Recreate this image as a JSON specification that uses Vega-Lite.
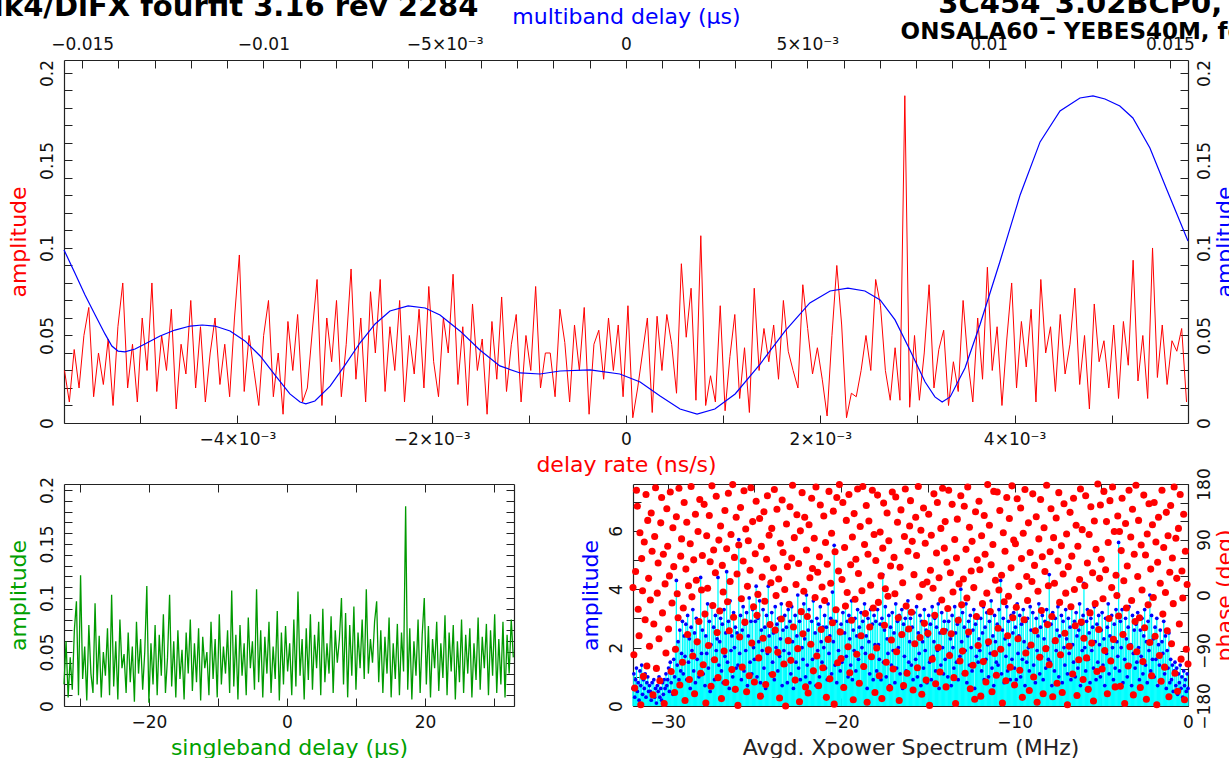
{
"$schema": "https://vega.github.io/schema/vega-lite/v6.json",
"background": "white",
"padding": {"left": -25, "top": -10, "right": 0, "bottom": 0},
"title": {"text": "Mk4/DiFX fourfit 3.16 rev 2284", "anchor": "start", "frame": "bounds", "font": "DejaVu Sans", "fontSize": 29, "fontWeight": "bold", "color": "#000000", "offset": 0, "dx": -32, "dy": 32},
"config": {
  "view": {"stroke": null},
  "axis": {"domainColor": "#222222", "domainWidth": 1.2, "tickColor": "#222222", "tickSize": -8, "tickWidth": 1, "labelPadding": 16, "labelFont": "DejaVu Sans", "labelFontSize": 17, "labelColor": "#111111", "titleFont": "DejaVu Sans", "titleFontSize": 22, "titleFontWeight": "normal", "grid": false, "labelOverlap": false, "labelFlush": false, "labelBound": false},
  "axisY": {"labelAngle": -90, "titleAngle": -90}
},
"spacing": 61,
"bounds": "flush",
"vconcat": [
{
  "width": 1124, "height": 363,
  "title": {"text": "3C454_3.02BCP0, 2ADFKQ, LL", "subtitle": "ONSALA60 - YEBES40M, fgroup X, pol LL", "anchor": "end", "align": "right", "frame": "group", "font": "DejaVu Sans", "fontSize": 29, "fontWeight": "bold", "color": "#000000", "subtitleFont": "DejaVu Sans", "subtitleFontSize": 23, "subtitleFontWeight": "bold", "subtitleColor": "#000000", "subtitlePadding": 2, "offset": 0, "dx": 236, "dy": 39},
  "resolve": {"scale": {"x": "independent", "y": "independent"}, "axis": {"x": "independent", "y": "independent"}},
  "layer": [
    {
      "data": {"values": [
{"r":-5.78e-3,"a":0.030},{"r":-5.73e-3,"a":0.012},{"r":-5.68e-3,"a":0.042},{"r":-5.63e-3,"a":0.020},{"r":-5.58e-3,"a":0.050},{"r":-5.53e-3,"a":0.066},{"r":-5.48e-3,"a":0.015},{"r":-5.43e-3,"a":0.040},{"r":-5.38e-3,"a":0.022},{"r":-5.33e-3,"a":0.048},
{"r":-5.28e-3,"a":0.010},{"r":-5.23e-3,"a":0.055},{"r":-5.18e-3,"a":0.080},{"r":-5.13e-3,"a":0.020},{"r":-5.08e-3,"a":0.045},{"r":-5.03e-3,"a":0.012},{"r":-4.98e-3,"a":0.060},{"r":-4.93e-3,"a":0.030},{"r":-4.88e-3,"a":0.080},{"r":-4.83e-3,"a":0.018},
{"r":-4.78e-3,"a":0.050},{"r":-4.73e-3,"a":0.030},{"r":-4.68e-3,"a":0.065},{"r":-4.63e-3,"a":0.008},{"r":-4.58e-3,"a":0.045},{"r":-4.53e-3,"a":0.028},{"r":-4.48e-3,"a":0.070},{"r":-4.43e-3,"a":0.020},{"r":-4.38e-3,"a":0.055},{"r":-4.33e-3,"a":0.012},
{"r":-4.28e-3,"a":0.040},{"r":-4.23e-3,"a":0.060},{"r":-4.18e-3,"a":0.022},{"r":-4.13e-3,"a":0.045},{"r":-4.08e-3,"a":0.015},{"r":-4.03e-3,"a":0.060},{"r":-3.98e-3,"a":0.096},{"r":-3.93e-3,"a":0.018},{"r":-3.88e-3,"a":0.050},{"r":-3.83e-3,"a":0.030},
{"r":-3.78e-3,"a":0.010},{"r":-3.73e-3,"a":0.050},{"r":-3.68e-3,"a":0.070},{"r":-3.63e-3,"a":0.015},{"r":-3.58e-3,"a":0.040},{"r":-3.53e-3,"a":0.005},{"r":-3.48e-3,"a":0.058},{"r":-3.43e-3,"a":0.030},{"r":-3.38e-3,"a":0.062},{"r":-3.33e-3,"a":0.012},
{"r":-3.28e-3,"a":0.020},{"r":-3.23e-3,"a":0.052},{"r":-3.18e-3,"a":0.082},{"r":-3.13e-3,"a":0.010},{"r":-3.08e-3,"a":0.060},{"r":-3.03e-3,"a":0.035},{"r":-2.98e-3,"a":0.070},{"r":-2.93e-3,"a":0.015},{"r":-2.88e-3,"a":0.045},{"r":-2.83e-3,"a":0.088},
{"r":-2.78e-3,"a":0.025},{"r":-2.73e-3,"a":0.060},{"r":-2.68e-3,"a":0.012},{"r":-2.63e-3,"a":0.075},{"r":-2.58e-3,"a":0.040},{"r":-2.53e-3,"a":0.082},{"r":-2.48e-3,"a":0.018},{"r":-2.43e-3,"a":0.055},{"r":-2.38e-3,"a":0.030},{"r":-2.33e-3,"a":0.070},
{"r":-2.28e-3,"a":0.012},{"r":-2.23e-3,"a":0.050},{"r":-2.18e-3,"a":0.028},{"r":-2.13e-3,"a":0.065},{"r":-2.08e-3,"a":0.020},{"r":-2.03e-3,"a":0.078},{"r":-1.98e-3,"a":0.035},{"r":-1.93e-3,"a":0.015},{"r":-1.88e-3,"a":0.060},{"r":-1.83e-3,"a":0.040},
{"r":-1.78e-3,"a":0.085},{"r":-1.73e-3,"a":0.022},{"r":-1.68e-3,"a":0.055},{"r":-1.63e-3,"a":0.010},{"r":-1.58e-3,"a":0.068},{"r":-1.53e-3,"a":0.030},{"r":-1.48e-3,"a":0.048},{"r":-1.43e-3,"a":0.005},{"r":-1.38e-3,"a":0.058},{"r":-1.33e-3,"a":0.025},
{"r":-1.28e-3,"a":0.072},{"r":-1.23e-3,"a":0.018},{"r":-1.18e-3,"a":0.045},{"r":-1.13e-3,"a":0.062},{"r":-1.08e-3,"a":0.012},{"r":-1.03e-3,"a":0.050},{"r":-0.98e-3,"a":0.030},{"r":-0.93e-3,"a":0.078},{"r":-0.88e-3,"a":0.020},{"r":-0.83e-3,"a":0.040},
{"r":-0.78e-3,"a":0.040},{"r":-0.73e-3,"a":0.015},{"r":-0.68e-3,"a":0.065},{"r":-0.63e-3,"a":0.046},{"r":-0.58e-3,"a":0.012},{"r":-0.53e-3,"a":0.056},{"r":-0.48e-3,"a":0.030},{"r":-0.43e-3,"a":0.066},{"r":-0.38e-3,"a":0.005},{"r":-0.33e-3,"a":0.045},
{"r":-0.28e-3,"a":0.053},{"r":-0.23e-3,"a":0.025},{"r":-0.18e-3,"a":0.060},{"r":-0.13e-3,"a":0.030},{"r":-0.08e-3,"a":0.056},{"r":-0.03e-3,"a":0.015},{"r":0.02e-3,"a":0.067},{"r":0.07e-3,"a":0.003},{"r":0.12e-3,"a":0.020},{"r":0.17e-3,"a":0.040},
{"r":0.22e-3,"a":0.060},{"r":0.27e-3,"a":0.006},{"r":0.32e-3,"a":0.061},{"r":0.37e-3,"a":0.030},{"r":0.42e-3,"a":0.062},{"r":0.47e-3,"a":0.045},{"r":0.52e-3,"a":0.017},{"r":0.57e-3,"a":0.091},{"r":0.62e-3,"a":0.049},{"r":0.67e-3,"a":0.077},
{"r":0.72e-3,"a":0.013},{"r":0.77e-3,"a":0.107},{"r":0.82e-3,"a":0.010},{"r":0.87e-3,"a":0.027},{"r":0.92e-3,"a":0.012},{"r":0.97e-3,"a":0.067},{"r":1.02e-3,"a":0.007},{"r":1.07e-3,"a":0.038},{"r":1.12e-3,"a":0.062},{"r":1.17e-3,"a":0.014},
{"r":1.22e-3,"a":0.043},{"r":1.27e-3,"a":0.006},{"r":1.32e-3,"a":0.077},{"r":1.37e-3,"a":0.030},{"r":1.42e-3,"a":0.054},{"r":1.47e-3,"a":0.035},{"r":1.52e-3,"a":0.056},{"r":1.57e-3,"a":0.025},{"r":1.62e-3,"a":0.070},{"r":1.67e-3,"a":0.041},
{"r":1.72e-3,"a":0.030},{"r":1.77e-3,"a":0.020},{"r":1.82e-3,"a":0.079},{"r":1.87e-3,"a":0.054},{"r":1.92e-3,"a":0.028},{"r":1.97e-3,"a":0.043},{"r":2.02e-3,"a":0.025},{"r":2.07e-3,"a":0.004},{"r":2.12e-3,"a":0.050},{"r":2.17e-3,"a":0.090},
{"r":2.22e-3,"a":0.056},{"r":2.27e-3,"a":0.003},{"r":2.32e-3,"a":0.017},{"r":2.37e-3,"a":0.015},{"r":2.42e-3,"a":0.030},{"r":2.47e-3,"a":0.050},{"r":2.52e-3,"a":0.030},{"r":2.57e-3,"a":0.082},{"r":2.62e-3,"a":0.067},{"r":2.67e-3,"a":0.030},
{"r":2.72e-3,"a":0.013},{"r":2.77e-3,"a":0.043},{"r":2.82e-3,"a":0.013},{"r":2.87e-3,"a":0.187},{"r":2.92e-3,"a":0.009},{"r":2.97e-3,"a":0.050},{"r":3.02e-3,"a":0.013},{"r":3.07e-3,"a":0.040},{"r":3.12e-3,"a":0.079},{"r":3.17e-3,"a":0.020},
{"r":3.22e-3,"a":0.042},{"r":3.27e-3,"a":0.053},{"r":3.32e-3,"a":0.010},{"r":3.37e-3,"a":0.035},{"r":3.42e-3,"a":0.018},{"r":3.47e-3,"a":0.070},{"r":3.52e-3,"a":0.035},{"r":3.57e-3,"a":0.012},{"r":3.62e-3,"a":0.060},{"r":3.67e-3,"a":0.025},
{"r":3.72e-3,"a":0.089},{"r":3.77e-3,"a":0.030},{"r":3.82e-3,"a":0.055},{"r":3.87e-3,"a":0.010},{"r":3.92e-3,"a":0.048},{"r":3.97e-3,"a":0.080},{"r":4.02e-3,"a":0.020},{"r":4.07e-3,"a":0.058},{"r":4.12e-3,"a":0.032},{"r":4.17e-3,"a":0.065},
{"r":4.22e-3,"a":0.012},{"r":4.27e-3,"a":0.082},{"r":4.32e-3,"a":0.040},{"r":4.37e-3,"a":0.055},{"r":4.42e-3,"a":0.018},{"r":4.47e-3,"a":0.062},{"r":4.52e-3,"a":0.028},{"r":4.57e-3,"a":0.045},{"r":4.62e-3,"a":0.077},{"r":4.67e-3,"a":0.022},
{"r":4.72e-3,"a":0.050},{"r":4.77e-3,"a":0.008},{"r":4.82e-3,"a":0.068},{"r":4.87e-3,"a":0.035},{"r":4.92e-3,"a":0.047},{"r":4.97e-3,"a":0.020},{"r":5.02e-3,"a":0.056},{"r":5.07e-3,"a":0.014},{"r":5.12e-3,"a":0.058},{"r":5.17e-3,"a":0.033},
{"r":5.22e-3,"a":0.093},{"r":5.27e-3,"a":0.024},{"r":5.32e-3,"a":0.050},{"r":5.37e-3,"a":0.014},{"r":5.42e-3,"a":0.100},{"r":5.47e-3,"a":0.026},{"r":5.52e-3,"a":0.056},{"r":5.57e-3,"a":0.022},{"r":5.62e-3,"a":0.047},{"r":5.67e-3,"a":0.041},
{"r":5.72e-3,"a":0.054},{"r":5.77e-3,"a":0.012}
      ]},
      "mark": {"type": "line", "color": "#ff0000", "strokeWidth": 1},
      "encoding": {
        "x": {"field": "r", "type": "quantitative", "scale": {"domain": [-0.005785, 0.005785], "nice": false, "zero": false},
              "axis": {"orient": "bottom", "title": "delay rate (ns/s)", "titleColor": "#ff0000", "titlePadding": 7,
                       "values": [-0.005,-0.004,-0.003,-0.002,-0.001,0,0.001,0.002,0.003,0.004,0.005],
                       "labelExpr": "abs(datum.value) < 1e-9 ? '0' : (abs(round(datum.value*1000)) % 2 == 0 ? (datum.value < 0 ? '\u2212' : '') + abs(round(datum.value*1000)) + '\u00d710\u207b\u00b3' : '')"}},
        "y": {"field": "a", "type": "quantitative", "scale": {"domain": [0, 0.2074], "nice": false, "zero": false},
              "axis": {"orient": "left", "title": "amplitude", "titleColor": "#ff0000", "titlePadding": 8,
                       "values": [0,0.01,0.02,0.03,0.04,0.05,0.06,0.07,0.08,0.09,0.1,0.11,0.12,0.13,0.14,0.15,0.16,0.17,0.18,0.19,0.2],
                       "labelExpr": "abs(round(datum.value*100)) % 5 == 0 ? '' + datum.value : ''"}}
      }
    },
    {
      "data": {"values": [
{"m":-0.01550,"a":0.0989},{"m":-0.01520,"a":0.0857},{"m":-0.01492,"a":0.0731},{"m":-0.01464,"a":0.0617},{"m":-0.01437,"a":0.0509},{"m":-0.01418,"a":0.0440},{"m":-0.01401,"a":0.0411},{"m":-0.01382,"a":0.0406},{"m":-0.01354,"a":0.0423},{"m":-0.01327,"a":0.0451},
{"m":-0.01285,"a":0.0497},{"m":-0.01244,"a":0.0531},{"m":-0.01202,"a":0.0554},{"m":-0.01169,"a":0.0560},{"m":-0.01134,"a":0.0554},{"m":-0.01092,"a":0.0526},{"m":-0.01051,"a":0.0469},{"m":-0.01009,"a":0.0383},{"m":-0.00968,"a":0.0274},{"m":-0.00927,"a":0.0166},
{"m":-0.00899,"a":0.0120},{"m":-0.00883,"a":0.0109},{"m":-0.00858,"a":0.0126},{"m":-0.00816,"a":0.0211},{"m":-0.00775,"a":0.0331},{"m":-0.00734,"a":0.0457},{"m":-0.00692,"a":0.0566},{"m":-0.00651,"a":0.0640},{"m":-0.00601,"a":0.0669},{"m":-0.00554,"a":0.0657},
{"m":-0.00513,"a":0.0617},{"m":-0.00458,"a":0.0526},{"m":-0.00403,"a":0.0417},{"m":-0.00348,"a":0.0326},{"m":-0.00292,"a":0.0286},{"m":-0.00237,"a":0.0280},{"m":-0.00182,"a":0.0297},{"m":-0.00099,"a":0.0303},{"m":-0.00017,"a":0.0280},{"m":0.00039,"a":0.0234},
{"m":0.00094,"a":0.0154},{"m":0.00149,"a":0.0080},{"m":0.00196,"a":0.0051},{"m":0.00245,"a":0.0080},{"m":0.00301,"a":0.0166},{"m":0.00370,"a":0.0337},{"m":0.00439,"a":0.0526},{"m":0.00507,"a":0.0686},{"m":0.00563,"a":0.0754},{"m":0.00612,"a":0.0771},
{"m":0.00659,"a":0.0754},{"m":0.00701,"a":0.0703},{"m":0.00742,"a":0.0589},{"m":0.00783,"a":0.0417},{"m":0.00825,"a":0.0234},{"m":0.00852,"a":0.0149},{"m":0.00872,"a":0.0120},{"m":0.00894,"a":0.0149},{"m":0.00935,"a":0.0314},{"m":0.00976,"a":0.0560},
{"m":0.01031,"a":0.0920},{"m":0.01087,"a":0.1303},{"m":0.01142,"a":0.1606},{"m":0.01197,"a":0.1783},{"m":0.01252,"a":0.1857},{"m":0.01288,"a":0.1869},{"m":0.01321,"a":0.1851},{"m":0.01362,"a":0.1811},{"m":0.01398,"a":0.1743},{"m":0.01445,"a":0.1571},
{"m":0.01492,"a":0.1331},{"m":0.01550,"a":0.1040}
      ]},
      "mark": {"type": "line", "color": "#0000ff", "strokeWidth": 1.2},
      "encoding": {
        "x": {"field": "m", "type": "quantitative", "scale": {"domain": [-0.0155, 0.0155], "nice": false, "zero": false},
              "axis": {"orient": "top", "title": "multiband delay (\u00b5s)", "titleColor": "#0000ff", "titlePadding": 7, "labelPadding": 15,
                       "values": [-0.015,-0.014,-0.013,-0.012,-0.011,-0.01,-0.009,-0.008,-0.007,-0.006,-0.005,-0.004,-0.003,-0.002,-0.001,0,0.001,0.002,0.003,0.004,0.005,0.006,0.007,0.008,0.009,0.01,0.011,0.012,0.013,0.014,0.015],
                       "labelExpr": "abs(round(datum.value*1000)) % 5 != 0 ? '' : (abs(datum.value) < 1e-9 ? '0' : (datum.value < 0 ? '\u2212' : '') + (abs(round(datum.value*1000)) == 5 ? '5\u00d710\u207b\u00b3' : (abs(round(datum.value*1000)) == 10 ? '0.01' : '0.015')))"}},
        "y": {"field": "a", "type": "quantitative", "scale": {"domain": [0, 0.2074], "nice": false, "zero": false},
              "axis": {"orient": "right", "title": "amplitude", "titleColor": "#0000ff", "titlePadding": 24,
                       "values": [0,0.01,0.02,0.03,0.04,0.05,0.06,0.07,0.08,0.09,0.1,0.11,0.12,0.13,0.14,0.15,0.16,0.17,0.18,0.19,0.2],
                       "labelExpr": "abs(round(datum.value*100)) % 5 == 0 ? '' + datum.value : ''"}}
      }
    }
  ]
},
{
  "hconcat": [
  {
    "width": 450, "height": 222,
    "data": {"values": [
{"d":-32.3,"a":0.020},{"d":-32.0,"a":0.060},{"d":-31.7,"a":0.008},{"d":-31.4,"a":0.045},{"d":-31.1,"a":0.015},{"d":-30.8,"a":0.070},{"d":-30.5,"a":0.097},{"d":-30.2,"a":0.010},{"d":-29.9,"a":0.121},{"d":-29.6,"a":0.025},
{"d":-29.3,"a":0.055},{"d":-29.0,"a":0.005},{"d":-28.7,"a":0.075},{"d":-28.4,"a":0.030},{"d":-28.1,"a":0.012},{"d":-27.8,"a":0.095},{"d":-27.5,"a":0.020},{"d":-27.2,"a":0.065},{"d":-26.9,"a":0.008},{"d":-26.6,"a":0.050},
{"d":-26.3,"a":0.028},{"d":-26.0,"a":0.072},{"d":-25.7,"a":0.010},{"d":-25.4,"a":0.103},{"d":-25.1,"a":0.018},{"d":-24.8,"a":0.060},{"d":-24.5,"a":0.006},{"d":-24.2,"a":0.080},{"d":-23.9,"a":0.035},{"d":-23.6,"a":0.048},
{"d":-23.3,"a":0.012},{"d":-23.0,"a":0.068},{"d":-22.7,"a":0.022},{"d":-22.4,"a":0.055},{"d":-22.1,"a":0.004},{"d":-21.8,"a":0.078},{"d":-21.5,"a":0.030},{"d":-21.2,"a":0.062},{"d":-20.9,"a":0.015},{"d":-20.6,"a":0.050},
{"d":-20.3,"a":0.111},{"d":-20.0,"a":0.003},{"d":-19.7,"a":0.058},{"d":-19.4,"a":0.020},{"d":-19.1,"a":0.075},{"d":-18.8,"a":0.010},{"d":-18.5,"a":0.066},{"d":-18.2,"a":0.028},{"d":-17.9,"a":0.085},{"d":-17.6,"a":0.012},
{"d":-17.3,"a":0.045},{"d":-17.0,"a":0.103},{"d":-16.7,"a":0.018},{"d":-16.4,"a":0.060},{"d":-16.1,"a":0.008},{"d":-15.8,"a":0.070},{"d":-15.5,"a":0.025},{"d":-15.2,"a":0.052},{"d":-14.9,"a":0.006},{"d":-14.6,"a":0.068},
{"d":-14.3,"a":0.030},{"d":-14.0,"a":0.080},{"d":-13.7,"a":0.014},{"d":-13.4,"a":0.058},{"d":-13.1,"a":0.022},{"d":-12.8,"a":0.072},{"d":-12.5,"a":0.005},{"d":-12.2,"a":0.064},{"d":-11.9,"a":0.035},{"d":-11.6,"a":0.050},
{"d":-11.3,"a":0.010},{"d":-11.0,"a":0.078},{"d":-10.7,"a":0.025},{"d":-10.4,"a":0.062},{"d":-10.1,"a":0.008},{"d":-9.8,"a":0.085},{"d":-9.5,"a":0.020},{"d":-9.2,"a":0.055},{"d":-8.9,"a":0.030},{"d":-8.6,"a":0.070},
{"d":-8.3,"a":0.012},{"d":-8.0,"a":0.107},{"d":-7.7,"a":0.018},{"d":-7.4,"a":0.066},{"d":-7.1,"a":0.006},{"d":-6.8,"a":0.075},{"d":-6.5,"a":0.028},{"d":-6.2,"a":0.058},{"d":-5.9,"a":0.010},{"d":-5.6,"a":0.082},
{"d":-5.3,"a":0.035},{"d":-5.0,"a":0.060},{"d":-4.7,"a":0.015},{"d":-4.4,"a":0.108},{"d":-4.1,"a":0.022},{"d":-3.8,"a":0.070},{"d":-3.5,"a":0.008},{"d":-3.2,"a":0.064},{"d":-2.9,"a":0.030},{"d":-2.6,"a":0.078},
{"d":-2.3,"a":0.012},{"d":-2.0,"a":0.055},{"d":-1.7,"a":0.025},{"d":-1.4,"a":0.088},{"d":-1.1,"a":0.005},{"d":-0.8,"a":0.068},{"d":-0.5,"a":0.020},{"d":-0.2,"a":0.074},{"d":0.1,"a":0.032},{"d":0.4,"a":0.058},
{"d":0.7,"a":0.010},{"d":1.0,"a":0.080},{"d":1.3,"a":0.018},{"d":1.6,"a":0.106},{"d":1.9,"a":0.028},{"d":2.2,"a":0.062},{"d":2.5,"a":0.006},{"d":2.8,"a":0.072},{"d":3.1,"a":0.024},{"d":3.4,"a":0.085},
{"d":3.7,"a":0.015},{"d":4.0,"a":0.066},{"d":4.3,"a":0.035},{"d":4.6,"a":0.078},{"d":4.9,"a":0.010},{"d":5.2,"a":0.090},{"d":5.5,"a":0.022},{"d":5.8,"a":0.058},{"d":6.1,"a":0.030},{"d":6.4,"a":0.083},
{"d":6.7,"a":0.012},{"d":7.0,"a":0.070},{"d":7.3,"a":0.040},{"d":7.6,"a":0.062},{"d":7.9,"a":0.100},{"d":8.2,"a":0.020},{"d":8.5,"a":0.086},{"d":8.8,"a":0.008},{"d":9.1,"a":0.075},{"d":9.4,"a":0.028},
{"d":9.7,"a":0.092},{"d":10.0,"a":0.015},{"d":10.3,"a":0.068},{"d":10.6,"a":0.035},{"d":10.9,"a":0.080},{"d":11.2,"a":0.025},{"d":11.5,"a":0.108},{"d":11.8,"a":0.030},{"d":12.1,"a":0.062},{"d":12.4,"a":0.040},
{"d":12.7,"a":0.078},{"d":13.0,"a":0.097},{"d":13.3,"a":0.022},{"d":13.6,"a":0.070},{"d":13.9,"a":0.012},{"d":14.2,"a":0.064},{"d":14.5,"a":0.030},{"d":14.8,"a":0.082},{"d":15.1,"a":0.008},{"d":15.4,"a":0.058},
{"d":15.7,"a":0.025},{"d":16.0,"a":0.076},{"d":16.3,"a":0.010},{"d":16.6,"a":0.068},{"d":16.9,"a":0.032},{"d":17.2,"a":0.185},{"d":17.5,"a":0.015},{"d":17.8,"a":0.072},{"d":18.1,"a":0.006},{"d":18.4,"a":0.060},
{"d":18.7,"a":0.028},{"d":19.0,"a":0.080},{"d":19.3,"a":0.012},{"d":19.6,"a":0.066},{"d":19.9,"a":0.100},{"d":20.2,"a":0.020},{"d":20.5,"a":0.074},{"d":20.8,"a":0.008},{"d":21.1,"a":0.062},{"d":21.4,"a":0.035},
{"d":21.7,"a":0.078},{"d":22.0,"a":0.014},{"d":22.3,"a":0.058},{"d":22.6,"a":0.026},{"d":22.9,"a":0.084},{"d":23.2,"a":0.010},{"d":23.5,"a":0.068},{"d":23.8,"a":0.032},{"d":24.1,"a":0.075},{"d":24.4,"a":0.006},
{"d":24.7,"a":0.060},{"d":25.0,"a":0.022},{"d":25.3,"a":0.080},{"d":25.6,"a":0.012},{"d":25.9,"a":0.066},{"d":26.2,"a":0.030},{"d":26.5,"a":0.072},{"d":26.8,"a":0.008},{"d":27.1,"a":0.058},{"d":27.4,"a":0.024},
{"d":27.7,"a":0.082},{"d":28.0,"a":0.015},{"d":28.3,"a":0.064},{"d":28.6,"a":0.035},{"d":28.9,"a":0.076},{"d":29.2,"a":0.010},{"d":29.5,"a":0.070},{"d":29.8,"a":0.028},{"d":30.1,"a":0.085},{"d":30.4,"a":0.012},
{"d":30.7,"a":0.062},{"d":31.0,"a":0.020},{"d":31.3,"a":0.078},{"d":31.6,"a":0.008},{"d":31.9,"a":0.066},{"d":32.2,"a":0.030},{"d":32.5,"a":0.080},{"d":32.8,"a":0.045}
    ]},
    "resolve": {"axis": {"x": "independent", "y": "independent"}},
    "layer": [
      {
        "mark": {"type": "line", "color": "#009a00", "strokeWidth": 1.3},
        "encoding": {
          "x": {"field": "d", "type": "quantitative", "scale": {"domain": [-32.3, 32.9], "nice": false, "zero": false},
                "axis": {"orient": "bottom", "title": "singleband delay (\u00b5s)", "titleColor": "#00a000", "titlePadding": 7,
                         "values": [-30,-20,-10,0,10,20,30], "labelExpr": "datum.value % 20 == 0 ? format(datum.value, 'd') : ''"}},
          "y": {"field": "a", "type": "quantitative", "scale": {"domain": [0, 0.2055], "nice": false, "zero": false},
                "axis": {"orient": "left", "title": "amplitude", "titleColor": "#00a000", "titlePadding": 8,
                         "values": [0,0.01,0.02,0.03,0.04,0.05,0.06,0.07,0.08,0.09,0.1,0.11,0.12,0.13,0.14,0.15,0.16,0.17,0.18,0.19,0.2],
                         "labelExpr": "abs(round(datum.value*100)) % 5 == 0 ? '' + datum.value : ''"}}
        }
      },
      {
        "mark": {"type": "line", "opacity": 0},
        "encoding": {
          "x": {"field": "d", "type": "quantitative", "axis": {"orient": "top", "labels": false, "title": null, "values": [-30,-20,-10,0,10,20,30]}},
          "y": {"field": "a", "type": "quantitative", "axis": {"orient": "right", "labels": false, "title": null, "values": [0,0.01,0.02,0.03,0.04,0.05,0.06,0.07,0.08,0.09,0.1,0.11,0.12,0.13,0.14,0.15,0.16,0.17,0.18,0.19,0.2]}}
        }
      }
    ]
  },
  {
    "width": 555, "height": 222,
    "data": {"values": [
{"f":-32,"a":0.6,"p":12},{"f":-31.95,"a":1.1,"p":-97},{"f":-31.9,"a":0.3,"p":-151},{"f":-31.85,"a":0.9,"p":38},{"f":-31.8,"a":1.3,"p":170},{"f":-31.75,"a":0.5,"p":144},{"f":-31.7,"a":0.8,"p":-23},{"f":-31.65,"a":0.2,"p":-66},{"f":-31.6,"a":1.2,"p":101},{"f":-31.55,"a":0.7,"p":-178},
{"f":-31.5,"a":1.4,"p":59},{"f":-31.45,"a":0.4,"p":7},{"f":-31.4,"a":0.9,"p":-132},{"f":-31.35,"a":0.6,"p":86},{"f":-31.3,"a":1.1,"p":-40},{"f":-31.25,"a":0.3,"p":163},{"f":-31.2,"a":0.8,"p":-115},{"f":-31.15,"a":1.0,"p":121},{"f":-31.1,"a":0.5,"p":27},{"f":-31.05,"a":0.7,"p":-83},
{"f":-31,"a":0.5,"p":-8},{"f":-30.95,"a":0.2,"p":133},{"f":-30.9,"a":0.8,"p":71},{"f":-30.85,"a":0.4,"p":-162},{"f":-30.8,"a":0.9,"p":-47},{"f":-30.75,"a":0.3,"p":95},{"f":-30.7,"a":0.6,"p":174},{"f":-30.65,"a":0.1,"p":-119},{"f":-30.6,"a":0.7,"p":3},{"f":-30.55,"a":0.5,"p":52},
{"f":-30.5,"a":1.0,"p":-71},{"f":-30.45,"a":0.3,"p":-139},{"f":-30.4,"a":0.6,"p":117},{"f":-30.35,"a":0.2,"p":158},{"f":-30.3,"a":0.8,"p":-29},{"f":-30.25,"a":0.4,"p":66},{"f":-30.2,"a":0.9,"p":-176},{"f":-30.15,"a":0.6,"p":18},{"f":-30.1,"a":1.1,"p":-94},{"f":-30.05,"a":0.7,"p":140},
{"f":-30,"a":0.9,"p":79},{"f":-29.95,"a":1.3,"p":-55},{"f":-29.9,"a":0.5,"p":31},{"f":-29.85,"a":1.5,"p":167},{"f":-29.8,"a":0.8,"p":-124},{"f":-29.75,"a":1.2,"p":-13},{"f":-29.7,"a":0.4,"p":109},{"f":-29.65,"a":1.6,"p":46},{"f":-29.6,"a":1.0,"p":-158},{"f":-29.55,"a":1.9,"p":-88},
{"f":-29.5,"a":4.3,"p":127},{"f":-29.45,"a":1.4,"p":2},{"f":-29.4,"a":2.2,"p":-37},{"f":-29.35,"a":0.9,"p":173},{"f":-29.3,"a":2.6,"p":-146},{"f":-29.25,"a":1.2,"p":63},{"f":-29.2,"a":1.8,"p":91},{"f":-29.15,"a":2.9,"p":-109},{"f":-29.1,"a":1.1,"p":-21},{"f":-29.05,"a":2.4,"p":150},
{"f":-29,"a":1.7,"p":-171},{"f":-28.95,"a":2.8,"p":42},{"f":-28.9,"a":0.9,"p":118},{"f":-28.85,"a":3.1,"p":-64},{"f":-28.8,"a":1.5,"p":15},{"f":-28.75,"a":2.3,"p":-137},{"f":-28.7,"a":0.6,"p":83},{"f":-28.65,"a":2.7,"p":176},{"f":-28.6,"a":1.9,"p":-3},{"f":-28.55,"a":3.3,"p":-99},
{"f":-28.5,"a":1.2,"p":57},{"f":-28.45,"a":2.5,"p":-160},{"f":-28.4,"a":0.8,"p":131},{"f":-28.35,"a":3.0,"p":24},{"f":-28.3,"a":1.6,"p":-76},{"f":-28.25,"a":2.2,"p":103},{"f":-28.2,"a":1.0,"p":-43},{"f":-28.15,"a":2.9,"p":155},{"f":-28.1,"a":4.4,"p":-127},{"f":-28.05,"a":1.8,"p":8},
{"f":-28,"a":2.6,"p":64},{"f":-27.95,"a":1.1,"p":-113},{"f":-27.9,"a":3.2,"p":147},{"f":-27.85,"a":0.7,"p":-31},{"f":-27.8,"a":2.4,"p":-175},{"f":-27.75,"a":1.8,"p":96},{"f":-27.7,"a":3.5,"p":11},{"f":-27.65,"a":1.3,"p":-82},{"f":-27.6,"a":2.9,"p":129},{"f":-27.55,"a":0.5,"p":54},
{"f":-27.5,"a":2.1,"p":-148},{"f":-27.45,"a":3.4,"p":177},{"f":-27.4,"a":1.6,"p":-17},{"f":-27.35,"a":2.7,"p":73},{"f":-27.3,"a":0.9,"p":-105},{"f":-27.25,"a":3.1,"p":36},{"f":-27.2,"a":1.9,"p":160},{"f":-27.15,"a":2.3,"p":-61},{"f":-27.1,"a":4.4,"p":-134},{"f":-27.05,"a":1.4,"p":89},
{"f":-27,"a":2.2,"p":-26},{"f":-26.95,"a":3.0,"p":112},{"f":-26.9,"a":1.2,"p":-168},{"f":-26.85,"a":2.8,"p":48},{"f":-26.8,"a":0.8,"p":5},{"f":-26.75,"a":3.3,"p":-91},{"f":-26.7,"a":1.7,"p":137},{"f":-26.65,"a":2.5,"p":-142},{"f":-26.6,"a":4.6,"p":75},{"f":-26.55,"a":1.5,"p":-11},
{"f":-26.5,"a":2.9,"p":165},{"f":-26.45,"a":0.6,"p":-58},{"f":-26.4,"a":3.6,"p":22},{"f":-26.35,"a":1.9,"p":98},{"f":-26.3,"a":2.4,"p":-121},{"f":-26.25,"a":1.0,"p":179},{"f":-26.2,"a":3.2,"p":-36},{"f":-26.15,"a":2.0,"p":61},{"f":-26.1,"a":2.7,"p":-153},{"f":-26.05,"a":1.3,"p":126},
{"f":-26,"a":2.5,"p":34},{"f":-25.95,"a":1.4,"p":-179},{"f":-25.9,"a":5.7,"p":81},{"f":-25.85,"a":1.8,"p":-68},{"f":-25.8,"a":3.1,"p":142},{"f":-25.75,"a":0.9,"p":-6},{"f":-25.7,"a":2.6,"p":-117},{"f":-25.65,"a":3.4,"p":55},{"f":-25.6,"a":1.2,"p":169},{"f":-25.55,"a":2.8,"p":-44},
{"f":-25.5,"a":1.9,"p":107},{"f":-25.45,"a":3.2,"p":-157},{"f":-25.4,"a":0.7,"p":14},{"f":-25.35,"a":2.4,"p":88},{"f":-25.3,"a":3.7,"p":-131},{"f":-25.25,"a":1.5,"p":40},{"f":-25.2,"a":2.9,"p":174},{"f":-25.15,"a":1.1,"p":-78},{"f":-25.1,"a":3.3,"p":119},{"f":-25.05,"a":2.0,"p":-19},
{"f":-25,"a":1.6,"p":-141},{"f":-24.95,"a":2.9,"p":67},{"f":-24.9,"a":4.1,"p":152},{"f":-24.85,"a":1.0,"p":-33},{"f":-24.8,"a":3.0,"p":1},{"f":-24.75,"a":2.2,"p":-102},{"f":-24.7,"a":3.6,"p":124},{"f":-24.65,"a":0.8,"p":-164},{"f":-24.6,"a":2.6,"p":79},{"f":-24.55,"a":1.9,"p":29},
{"f":-24.5,"a":3.3,"p":-70},{"f":-24.45,"a":1.3,"p":135},{"f":-24.4,"a":2.7,"p":-10},{"f":-24.35,"a":0.6,"p":-145},{"f":-24.3,"a":3.1,"p":58},{"f":-24.25,"a":1.8,"p":161},{"f":-24.2,"a":4.1,"p":-89},{"f":-24.15,"a":2.4,"p":97},{"f":-24.1,"a":1.1,"p":-48},{"f":-24.05,"a":2.8,"p":20},
{"f":-24,"a":3.2,"p":108},{"f":-23.95,"a":1.5,"p":-129},{"f":-23.9,"a":2.5,"p":44},{"f":-23.85,"a":0.9,"p":171},{"f":-23.8,"a":3.4,"p":-57},{"f":-23.75,"a":2.0,"p":-1},{"f":-23.7,"a":2.8,"p":139},{"f":-23.65,"a":1.2,"p":-93},{"f":-23.6,"a":3.0,"p":26},{"f":-23.55,"a":1.7,"p":-167},
{"f":-23.5,"a":2.3,"p":84},{"f":-23.45,"a":3.5,"p":-39},{"f":-23.4,"a":0.7,"p":154},{"f":-23.35,"a":2.6,"p":69},{"f":-23.3,"a":1.9,"p":-112},{"f":-23.25,"a":3.1,"p":9},{"f":-23.2,"a":1.4,"p":-180},{"f":-23.15,"a":2.7,"p":115},{"f":-23.1,"a":0.8,"p":46},{"f":-23.05,"a":3.3,"p":-74},
{"f":-23,"a":1.8,"p":-15},{"f":-22.95,"a":2.9,"p":143},{"f":-22.9,"a":1.1,"p":-106},{"f":-22.85,"a":3.4,"p":60},{"f":-22.8,"a":2.2,"p":178},{"f":-22.75,"a":0.6,"p":-52},{"f":-22.7,"a":2.7,"p":93},{"f":-22.65,"a":3.1,"p":-138},{"f":-22.6,"a":1.5,"p":17},{"f":-22.55,"a":2.4,"p":130},
{"f":-22.5,"a":3.8,"p":-87},{"f":-22.45,"a":1.3,"p":51},{"f":-22.4,"a":2.9,"p":-173},{"f":-22.35,"a":0.9,"p":104},{"f":-22.3,"a":3.2,"p":-27},{"f":-22.25,"a":2.0,"p":166},{"f":-22.2,"a":1.6,"p":-63},{"f":-22.15,"a":3.5,"p":6},{"f":-22.1,"a":2.3,"p":126},{"f":-22.05,"a":1.0,"p":-149},
{"f":-22,"a":3.8,"p":73},{"f":-21.95,"a":1.4,"p":-35},{"f":-21.9,"a":2.6,"p":-159},{"f":-21.85,"a":3.3,"p":114},{"f":-21.8,"a":0.8,"p":28},{"f":-21.75,"a":2.1,"p":-80},{"f":-21.7,"a":2.9,"p":157},{"f":-21.65,"a":1.6,"p":43},{"f":-21.6,"a":3.6,"p":-123},{"f":-21.55,"a":1.2,"p":92},
{"f":-21.5,"a":2.5,"p":-4},{"f":-21.45,"a":0.7,"p":175},{"f":-21.4,"a":3.0,"p":-99},{"f":-21.35,"a":1.9,"p":37},{"f":-21.3,"a":2.8,"p":-147},{"f":-21.25,"a":1.0,"p":62},{"f":-21.2,"a":3.4,"p":146},{"f":-21.15,"a":2.2,"p":-56},{"f":-21.1,"a":1.5,"p":13},{"f":-21.05,"a":2.7,"p":-118},
{"f":-21,"a":2.0,"p":128},{"f":-20.95,"a":3.1,"p":-9},{"f":-20.9,"a":1.3,"p":85},{"f":-20.85,"a":2.7,"p":-166},{"f":-20.8,"a":0.9,"p":50},{"f":-20.75,"a":3.5,"p":-72},{"f":-20.7,"a":1.8,"p":168},{"f":-20.65,"a":2.4,"p":-136},{"f":-20.6,"a":3.0,"p":19},{"f":-20.55,"a":1.1,"p":100},
{"f":-20.5,"a":3.9,"p":-45},{"f":-20.45,"a":2.2,"p":136},{"f":-20.4,"a":5.5,"p":-177},{"f":-20.35,"a":1.4,"p":70},{"f":-20.3,"a":2.9,"p":-24},{"f":-20.25,"a":0.8,"p":158},{"f":-20.2,"a":3.3,"p":-110},{"f":-20.15,"a":1.9,"p":39},{"f":-20.1,"a":2.6,"p":179},{"f":-20.05,"a":1.2,"p":-60},
{"f":-20,"a":2.8,"p":-103},{"f":-19.95,"a":1.5,"p":25},{"f":-19.9,"a":3.2,"p":150},{"f":-19.85,"a":0.7,"p":-150},{"f":-19.8,"a":2.5,"p":77},{"f":-19.75,"a":3.4,"p":-18},{"f":-19.7,"a":1.7,"p":121},{"f":-19.65,"a":2.9,"p":4},{"f":-19.6,"a":1.0,"p":-84},{"f":-19.55,"a":3.1,"p":163},
{"f":-19.5,"a":2.3,"p":-126},{"f":-19.45,"a":1.4,"p":49},{"f":-19.4,"a":3.6,"p":-41},{"f":-19.35,"a":0.9,"p":94},{"f":-19.3,"a":2.6,"p":-170},{"f":-19.25,"a":1.9,"p":132},{"f":-19.2,"a":3.0,"p":-7},{"f":-19.15,"a":1.2,"p":58},{"f":-19.1,"a":2.4,"p":-96},{"f":-19.05,"a":3.3,"p":172},
{"f":-19,"a":1.6,"p":35},{"f":-18.95,"a":2.7,"p":-143},{"f":-18.9,"a":0.8,"p":111},{"f":-18.85,"a":3.2,"p":-66},{"f":-18.8,"a":2.0,"p":7},{"f":-18.75,"a":2.9,"p":176},{"f":-18.7,"a":1.3,"p":-116},{"f":-18.65,"a":3.5,"p":82},{"f":-18.6,"a":1.8,"p":-30},{"f":-18.55,"a":2.4,"p":145},
{"f":-18.5,"a":0.6,"p":-174},{"f":-18.45,"a":3.0,"p":66},{"f":-18.4,"a":2.2,"p":120},{"f":-18.35,"a":1.1,"p":-52},{"f":-18.3,"a":3.3,"p":16},{"f":-18.25,"a":1.7,"p":-100},{"f":-18.2,"a":2.8,"p":170},{"f":-18.15,"a":0.9,"p":-21},{"f":-18.1,"a":3.1,"p":98},{"f":-18.05,"a":2.1,"p":-158},
{"f":-18,"a":2.9,"p":56},{"f":-17.95,"a":1.2,"p":-86},{"f":-17.9,"a":3.3,"p":162},{"f":-17.85,"a":2.1,"p":-12},{"f":-17.8,"a":1.6,"p":-131},{"f":-17.75,"a":2.8,"p":102},{"f":-17.7,"a":0.9,"p":31},{"f":-17.65,"a":3.0,"p":-168},{"f":-17.6,"a":4.5,"p":76},{"f":-17.55,"a":1.5,"p":149},
{"f":-17.5,"a":2.6,"p":-49},{"f":-17.45,"a":3.4,"p":10},{"f":-17.4,"a":1.0,"p":-109},{"f":-17.35,"a":2.3,"p":133},{"f":-17.3,"a":1.8,"p":-2},{"f":-17.25,"a":3.1,"p":88},{"f":-17.2,"a":0.7,"p":-151},{"f":-17.15,"a":2.7,"p":47},{"f":-17.1,"a":1.4,"p":-73},{"f":-17.05,"a":3.2,"p":167},
{"f":-17,"a":1.9,"p":-120},{"f":-16.95,"a":2.5,"p":61},{"f":-16.9,"a":0.8,"p":2},{"f":-16.85,"a":3.5,"p":159},{"f":-16.8,"a":1.3,"p":-92},{"f":-16.75,"a":2.9,"p":118},{"f":-16.7,"a":2.0,"p":-37},{"f":-16.65,"a":3.1,"p":-171},{"f":-16.6,"a":1.1,"p":45},{"f":-16.55,"a":2.4,"p":138},
{"f":-16.5,"a":3.3,"p":-64},{"f":-16.45,"a":0.6,"p":20},{"f":-16.4,"a":2.8,"p":-147},{"f":-16.35,"a":1.7,"p":95},{"f":-16.3,"a":3.0,"p":172},{"f":-16.25,"a":1.2,"p":-18},{"f":-16.2,"a":2.6,"p":-127},{"f":-16.15,"a":3.6,"p":71},{"f":-16.1,"a":1.5,"p":-55},{"f":-16.05,"a":2.2,"p":112},
{"f":-16,"a":3.0,"p":153},{"f":-15.95,"a":1.4,"p":-28},{"f":-15.9,"a":2.7,"p":87},{"f":-15.85,"a":0.9,"p":-154},{"f":-15.8,"a":3.2,"p":33},{"f":-15.75,"a":2.1,"p":-79},{"f":-15.7,"a":1.6,"p":126},{"f":-15.65,"a":3.4,"p":64},{"f":-15.6,"a":1.0,"p":-118},{"f":-15.55,"a":2.5,"p":176},
{"f":-15.5,"a":1.8,"p":-3},{"f":-15.45,"a":3.1,"p":-69},{"f":-15.4,"a":0.7,"p":105},{"f":-15.35,"a":2.9,"p":-161},{"f":-15.3,"a":2.2,"p":17},{"f":-15.25,"a":1.3,"p":141},{"f":-15.2,"a":3.3,"p":-46},{"f":-15.15,"a":1.9,"p":84},{"f":-15.1,"a":2.6,"p":-138},{"f":-15.05,"a":0.8,"p":21},
{"f":-15,"a":2.4,"p":-62},{"f":-14.95,"a":3.1,"p":131},{"f":-14.9,"a":1.5,"p":-179},{"f":-14.85,"a":2.8,"p":40},{"f":-14.8,"a":0.9,"p":97},{"f":-14.75,"a":3.4,"p":-104},{"f":-14.7,"a":1.7,"p":11},{"f":-14.65,"a":2.2,"p":164},{"f":-14.6,"a":3.0,"p":-33},{"f":-14.55,"a":1.2,"p":-144},
{"f":-14.5,"a":2.7,"p":68},{"f":-14.45,"a":1.9,"p":150},{"f":-14.4,"a":3.5,"p":-85},{"f":-14.35,"a":0.6,"p":28},{"f":-14.3,"a":2.5,"p":-125},{"f":-14.25,"a":1.4,"p":108},{"f":-14.2,"a":3.2,"p":-8},{"f":-14.15,"a":2.0,"p":173},{"f":-14.1,"a":1.1,"p":-59},{"f":-14.05,"a":2.9,"p":76},
{"f":-14,"a":1.6,"p":119},{"f":-13.95,"a":2.6,"p":-149},{"f":-13.9,"a":3.3,"p":53},{"f":-13.85,"a":1.0,"p":-22},{"f":-13.8,"a":2.9,"p":170},{"f":-13.75,"a":1.8,"p":-98},{"f":-13.7,"a":2.3,"p":36},{"f":-13.65,"a":0.7,"p":-63},{"f":-13.6,"a":3.1,"p":147},{"f":-13.55,"a":2.0,"p":5},
{"f":-13.5,"a":1.3,"p":-134},{"f":-13.45,"a":3.4,"p":90},{"f":-13.4,"a":2.5,"p":-176},{"f":-13.35,"a":1.5,"p":60},{"f":-13.3,"a":2.8,"p":123},{"f":-13.25,"a":0.9,"p":-41},{"f":-13.2,"a":3.0,"p":18},{"f":-13.15,"a":1.7,"p":-107},{"f":-13.1,"a":4.0,"p":161},{"f":-13.05,"a":2.2,"p":-16},
{"f":-13,"a":3.2,"p":-91},{"f":-12.95,"a":1.1,"p":26},{"f":-12.9,"a":2.7,"p":144},{"f":-12.85,"a":1.9,"p":-127},{"f":-12.8,"a":3.5,"p":74},{"f":-12.75,"a":0.8,"p":-5},{"f":-12.7,"a":2.4,"p":175},{"f":-12.65,"a":2.9,"p":-60},{"f":-12.6,"a":1.4,"p":110},{"f":-12.55,"a":3.1,"p":-152},
{"f":-12.5,"a":2.0,"p":39},{"f":-12.45,"a":1.2,"p":87},{"f":-12.4,"a":2.6,"p":-114},{"f":-12.35,"a":3.3,"p":12},{"f":-12.3,"a":0.6,"p":-169},{"f":-12.25,"a":2.8,"p":135},{"f":-12.2,"a":1.7,"p":-35},{"f":-12.15,"a":3.0,"p":57},{"f":-12.1,"a":1.5,"p":-82},{"f":-12.05,"a":2.3,"p":152},
{"f":-12,"a":1.9,"p":41},{"f":-11.95,"a":3.0,"p":-164},{"f":-11.9,"a":1.2,"p":96},{"f":-11.85,"a":2.5,"p":-14},{"f":-11.8,"a":3.4,"p":-108},{"f":-11.75,"a":0.9,"p":129},{"f":-11.7,"a":2.7,"p":66},{"f":-11.65,"a":1.6,"p":-141},{"f":-11.6,"a":3.2,"p":3},{"f":-11.55,"a":2.1,"p":179},
{"f":-11.5,"a":1.0,"p":-76},{"f":-11.45,"a":2.9,"p":113},{"f":-11.4,"a":1.8,"p":-27},{"f":-11.35,"a":3.6,"p":49},{"f":-11.3,"a":1.3,"p":-157},{"f":-11.25,"a":2.4,"p":82},{"f":-11.2,"a":0.7,"p":168},{"f":-11.15,"a":3.1,"p":-95},{"f":-11.1,"a":2.2,"p":24},{"f":-11.05,"a":1.5,"p":-130},
{"f":-11,"a":2.8,"p":167},{"f":-10.95,"a":1.4,"p":-54},{"f":-10.9,"a":3.3,"p":8},{"f":-10.85,"a":2.0,"p":137},{"f":-10.8,"a":4.3,"p":-88},{"f":-10.75,"a":1.1,"p":32},{"f":-10.7,"a":2.6,"p":-175},{"f":-10.65,"a":3.0,"p":101},{"f":-10.6,"a":0.8,"p":-11},{"f":-10.55,"a":2.3,"p":71},
{"f":-10.5,"a":1.7,"p":-139},{"f":-10.45,"a":3.4,"p":158},{"f":-10.4,"a":1.2,"p":-66},{"f":-10.35,"a":2.9,"p":-2},{"f":-10.3,"a":2.1,"p":124},{"f":-10.25,"a":0.9,"p":-117},{"f":-10.2,"a":3.1,"p":44},{"f":-10.15,"a":1.6,"p":177},{"f":-10.1,"a":2.5,"p":-37},{"f":-10.05,"a":3.2,"p":89},
{"f":-10,"a":1.3,"p":-146},{"f":-9.95,"a":2.7,"p":83},{"f":-9.9,"a":0.9,"p":-20},{"f":-9.85,"a":3.5,"p":156},{"f":-9.8,"a":1.8,"p":-71},{"f":-9.75,"a":2.4,"p":14},{"f":-9.7,"a":3.1,"p":-122},{"f":-9.65,"a":1.0,"p":141},{"f":-9.6,"a":2.8,"p":59},{"f":-9.55,"a":1.6,"p":-166},
{"f":-9.5,"a":3.3,"p":100},{"f":-9.45,"a":2.2,"p":-40},{"f":-9.4,"a":0.7,"p":171},{"f":-9.35,"a":2.9,"p":-94},{"f":-9.3,"a":1.5,"p":30},{"f":-9.25,"a":3.0,"p":-9},{"f":-9.2,"a":2.0,"p":117},{"f":-9.15,"a":1.2,"p":-155},{"f":-9.1,"a":3.4,"p":69},{"f":-9.05,"a":2.6,"p":-81},
{"f":-9,"a":2.1,"p":22},{"f":-8.95,"a":3.2,"p":164},{"f":-8.9,"a":1.4,"p":-133},{"f":-8.85,"a":2.6,"p":48},{"f":-8.8,"a":0.8,"p":-58},{"f":-8.75,"a":3.0,"p":127},{"f":-8.7,"a":1.9,"p":-174},{"f":-8.65,"a":2.4,"p":6},{"f":-8.6,"a":3.5,"p":91},{"f":-8.55,"a":1.1,"p":-101},
{"f":-8.5,"a":2.7,"p":155},{"f":-8.45,"a":1.7,"p":-25},{"f":-8.4,"a":3.1,"p":62},{"f":-8.35,"a":0.9,"p":-160},{"f":-8.3,"a":2.3,"p":109},{"f":-8.25,"a":2.9,"p":38},{"f":-8.2,"a":1.3,"p":-87},{"f":-8.15,"a":3.3,"p":178},{"f":-8.1,"a":2.0,"p":-48},{"f":-8.05,"a":1.6,"p":15},
{"f":-8,"a":4.5,"p":-113},{"f":-7.95,"a":1.5,"p":70},{"f":-7.9,"a":2.8,"p":140},{"f":-7.85,"a":0.7,"p":-35},{"f":-7.8,"a":3.2,"p":-165},{"f":-7.75,"a":2.2,"p":93},{"f":-7.7,"a":1.2,"p":19},{"f":-7.65,"a":3.0,"p":-74},{"f":-7.6,"a":1.9,"p":125},{"f":-7.55,"a":2.6,"p":-143},
{"f":-7.5,"a":3.4,"p":55},{"f":-7.45,"a":1.0,"p":166},{"f":-7.4,"a":2.4,"p":-12},{"f":-7.35,"a":1.7,"p":-97},{"f":-7.3,"a":3.1,"p":80},{"f":-7.25,"a":0.8,"p":-158},{"f":-7.2,"a":2.9,"p":34},{"f":-7.15,"a":2.0,"p":148},{"f":-7.1,"a":1.4,"p":-62},{"f":-7.05,"a":3.3,"p":3},
{"f":-7,"a":2.3,"p":99},{"f":-6.95,"a":1.1,"p":-178},{"f":-6.9,"a":3.0,"p":46},{"f":-6.85,"a":1.8,"p":-83},{"f":-6.8,"a":2.7,"p":134},{"f":-6.75,"a":0.9,"p":-19},{"f":-6.7,"a":3.4,"p":63},{"f":-6.65,"a":2.1,"p":-128},{"f":-6.6,"a":1.5,"p":157},{"f":-6.55,"a":2.9,"p":9},
{"f":-6.5,"a":1.0,"p":-50},{"f":-6.45,"a":3.2,"p":113},{"f":-6.4,"a":2.4,"p":-163},{"f":-6.35,"a":1.3,"p":79},{"f":-6.3,"a":2.6,"p":-105},{"f":-6.25,"a":3.5,"p":25},{"f":-6.2,"a":0.7,"p":172},{"f":-6.15,"a":2.8,"p":-44},{"f":-6.1,"a":1.9,"p":106},{"f":-6.05,"a":3.1,"p":-137},
{"f":-6,"a":4.2,"p":-70},{"f":-5.95,"a":2.0,"p":15},{"f":-5.9,"a":1.2,"p":161},{"f":-5.85,"a":2.9,"p":-102},{"f":-5.8,"a":3.3,"p":52},{"f":-5.75,"a":1.6,"p":-153},{"f":-5.7,"a":2.5,"p":98},{"f":-5.65,"a":0.8,"p":-29},{"f":-5.6,"a":3.0,"p":143},{"f":-5.55,"a":1.9,"p":-78},
{"f":-5.5,"a":2.7,"p":36},{"f":-5.45,"a":1.3,"p":-172},{"f":-5.4,"a":3.4,"p":120},{"f":-5.35,"a":2.2,"p":-14},{"f":-5.3,"a":0.9,"p":74},{"f":-5.25,"a":2.8,"p":-124},{"f":-5.2,"a":1.5,"p":180},{"f":-5.15,"a":3.1,"p":-56},{"f":-5.1,"a":2.1,"p":27},{"f":-5.05,"a":1.0,"p":146},
{"f":-5,"a":2.6,"p":58},{"f":-4.95,"a":3.2,"p":-120},{"f":-4.9,"a":1.4,"p":-6},{"f":-4.85,"a":2.3,"p":168},{"f":-4.8,"a":0.7,"p":-90},{"f":-4.75,"a":3.0,"p":41},{"f":-4.7,"a":1.8,"p":119},{"f":-4.65,"a":2.7,"p":-160},{"f":-4.6,"a":3.5,"p":85},{"f":-4.55,"a":1.1,"p":-38},
{"f":-4.5,"a":2.4,"p":153},{"f":-4.45,"a":1.6,"p":-107},{"f":-4.4,"a":3.1,"p":12},{"f":-4.35,"a":2.0,"p":175},{"f":-4.3,"a":0.9,"p":-72},{"f":-4.25,"a":2.8,"p":103},{"f":-4.2,"a":1.3,"p":-149},{"f":-4.15,"a":3.3,"p":32},{"f":-4.1,"a":2.2,"p":-1},{"f":-4.05,"a":1.7,"p":128},
{"f":-4,"a":5.6,"p":-34},{"f":-3.95,"a":1.2,"p":103},{"f":-3.9,"a":2.9,"p":-148},{"f":-3.85,"a":2.0,"p":72},{"f":-3.8,"a":3.3,"p":157},{"f":-3.75,"a":0.8,"p":-64},{"f":-3.7,"a":2.5,"p":23},{"f":-3.65,"a":1.6,"p":-176},{"f":-3.6,"a":3.0,"p":116},{"f":-3.55,"a":2.3,"p":-21},
{"f":-3.5,"a":1.0,"p":47},{"f":-3.45,"a":2.7,"p":-115},{"f":-3.4,"a":3.4,"p":170},{"f":-3.35,"a":1.4,"p":-84},{"f":-3.3,"a":2.1,"p":94},{"f":-3.25,"a":0.7,"p":-9},{"f":-3.2,"a":3.1,"p":139},{"f":-3.15,"a":1.8,"p":-162},{"f":-3.1,"a":2.6,"p":66},{"f":-3.05,"a":1.3,"p":-43},
{"f":-3,"a":2.8,"p":178},{"f":-2.95,"a":1.5,"p":-92},{"f":-2.9,"a":3.2,"p":30},{"f":-2.85,"a":2.0,"p":121},{"f":-2.8,"a":0.9,"p":-37},{"f":-2.75,"a":2.6,"p":-150},{"f":-2.7,"a":1.7,"p":81},{"f":-2.65,"a":3.0,"p":8},{"f":-2.6,"a":1.1,"p":-108},{"f":-2.55,"a":2.4,"p":162},
{"f":-2.5,"a":3.3,"p":-53},{"f":-2.45,"a":1.4,"p":65},{"f":-2.4,"a":2.2,"p":-169},{"f":-2.35,"a":0.8,"p":99},{"f":-2.3,"a":2.9,"p":-16},{"f":-2.25,"a":1.9,"p":148},{"f":-2.2,"a":3.8,"p":-77},{"f":-2.15,"a":1.2,"p":42},{"f":-2.1,"a":3.1,"p":-131},{"f":-2.05,"a":1.6,"p":114},
{"f":-2,"a":2.3,"p":-4},{"f":-1.95,"a":1.0,"p":150},{"f":-1.9,"a":2.7,"p":-67},{"f":-1.85,"a":1.6,"p":86},{"f":-1.8,"a":3.0,"p":-178},{"f":-1.75,"a":0.7,"p":53},{"f":-1.7,"a":2.1,"p":126},{"f":-1.65,"a":1.4,"p":-98},{"f":-1.6,"a":2.6,"p":19},{"f":-1.55,"a":0.9,"p":-140},
{"f":-1.5,"a":2.2,"p":170},{"f":-1.45,"a":1.8,"p":-31},{"f":-1.4,"a":2.9,"p":77},{"f":-1.35,"a":1.1,"p":-117},{"f":-1.3,"a":2.4,"p":4},{"f":-1.25,"a":0.6,"p":134},{"f":-1.2,"a":1.9,"p":-58},{"f":-1.15,"a":1.3,"p":96},{"f":-1.1,"a":2.5,"p":-165},{"f":-1.05,"a":0.8,"p":37},
{"f":-1,"a":1.6,"p":145},{"f":-0.95,"a":0.9,"p":-79},{"f":-0.9,"a":1.4,"p":60},{"f":-0.85,"a":0.5,"p":-14},{"f":-0.8,"a":1.2,"p":175},{"f":-0.75,"a":1.5,"p":-127},{"f":-0.7,"a":0.7,"p":92},{"f":-0.65,"a":1.3,"p":27},{"f":-0.6,"a":0.4,"p":-156},{"f":-0.55,"a":1.1,"p":108},
{"f":-0.5,"a":0.8,"p":-47},{"f":-0.45,"a":1.4,"p":163},{"f":-0.4,"a":0.6,"p":-104},{"f":-0.35,"a":1.0,"p":39},{"f":-0.3,"a":0.3,"p":-5},{"f":-0.25,"a":1.2,"p":131},{"f":-0.2,"a":0.7,"p":-170},{"f":-0.15,"a":0.9,"p":71},{"f":-0.1,"a":0.5,"p":-88},{"f":-0.05,"a":1.1,"p":17},
{"f":0,"a":0.6,"p":-112}
    ]},
    "resolve": {"scale": {"y": "independent"}, "axis": {"x": "independent", "y": "independent"}},
    "layer": [
      {
        "mark": {"type": "rule", "color": "#00ffff", "strokeWidth": 1.3},
        "encoding": {
          "x": {"field": "f", "type": "quantitative", "scale": {"domain": [-32, 0], "nice": false, "zero": false},
                "axis": {"orient": "bottom", "title": "Avgd. Xpower Spectrum (MHz)", "titleColor": "#222222", "titlePadding": 7,
                         "values": [-30,-25,-20,-15,-10,-5,0], "labelExpr": "datum.value % 10 == 0 ? format(datum.value, 'd') : ''"}},
          "y": {"field": "a", "type": "quantitative", "scale": {"domain": [0, 7.6], "nice": false, "zero": false},
                "axis": {"orient": "left", "title": "amplitude", "titleColor": "#0000ff", "titlePadding": 5,
                         "values": [0,1,2,3,4,5,6,7], "labelExpr": "datum.value % 2 == 0 ? '' + datum.value : ''"}},
          "y2": {"datum": 0}
        }
      },
      {
        "mark": {"type": "point", "filled": true, "color": "#0000ff", "size": 14, "opacity": 1},
        "encoding": {
          "x": {"field": "f", "type": "quantitative", "axis": null},
          "y": {"field": "a", "type": "quantitative", "scale": {"domain": [0, 7.6], "nice": false, "zero": false}, "axis": null}
        }
      },
      {
        "mark": {"type": "point", "filled": true, "color": "#ff0000", "size": 50, "opacity": 1},
        "encoding": {
          "x": {"field": "f", "type": "quantitative",
                "axis": {"orient": "top", "labels": false, "title": null, "values": [-30,-25,-20,-15,-10,-5,0]}},
          "y": {"field": "p", "type": "quantitative", "scale": {"domain": [-180, 180], "nice": false, "zero": false},
                "axis": {"orient": "right", "title": "phase (deg)", "titleColor": "#ff0000", "titlePadding": 24,
                         "values": [-180,-150,-120,-90,-60,-30,0,30,60,90,120,150,180], "labelExpr": "datum.value % 90 == 0 ? format(datum.value, 'd') : ''"}}
        }
      }
    ]
  }
  ],
  "spacing": 119,
  "bounds": "flush"
}
]
}
